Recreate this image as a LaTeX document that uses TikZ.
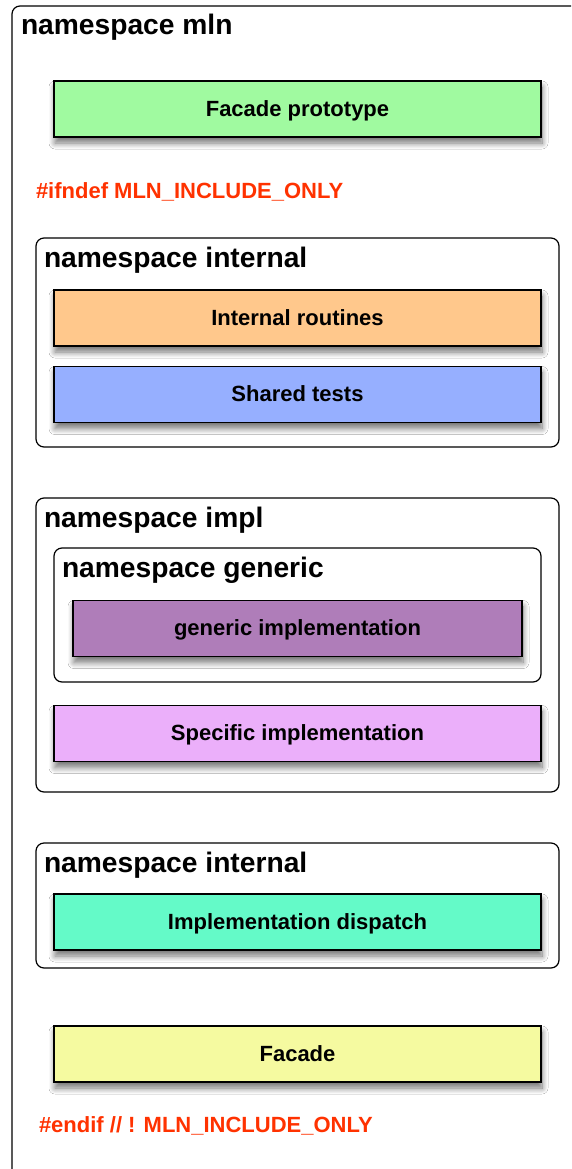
\documentclass[tikz,border=0pt]{standalone}
\usepackage{fontspec}
\setmainfont{Liberation Sans}
\usetikzlibrary{shadows.blur}
\definecolor{guardred}{RGB}{255,50,0}
\definecolor{protogreen}{RGB}{160,250,160}
\definecolor{routorange}{RGB}{255,200,140}
\definecolor{testblue}{RGB}{150,175,255}
\definecolor{genpurple}{RGB}{175,125,185}
\definecolor{specpink}{RGB}{235,175,250}
\definecolor{dispmint}{RGB}{100,250,200}
\definecolor{facyellow}{RGB}{245,250,160}

\begin{document}
\begin{tikzpicture}
    [x=1pt,y=-1pt,every node/.style={inner sep=0pt,outer sep=0pt},
     nsbox/.style={draw,line width=1.2pt,rounded corners=8pt,anchor=north west},
     nstitle/.style={anchor=base west,font=\fontsize{28.2}{31}\bfseries\selectfont},
     unit/.style={draw,line width=1.2pt,minimum height=56pt,text depth=1pt,
       font=\fontsize{22}{25}\bfseries\selectfont,
       blur shadow={shadow xshift=1pt,shadow yshift=-6pt,shadow blur steps=10,shadow blur radius=6pt,shadow opacity=55}},
     guard/.style={anchor=west,text=guardred,font=\fontsize{22}{25}\bfseries\selectfont}]
    \useasboundingbox[fill=white] (0,0) rectangle (571,1169);
    \clip (0,0) rectangle (571,1169);
    % namespace mln
    \node[nsbox,minimum width=620pt,minimum height=1200pt] (mln) at (12,6) {};
    \node[nstitle] (tmln) at (21,35) {namespace mln};
    \node[unit,fill=protogreen,minimum width=487pt] (proto) at (297.5,109) {Facade prototype};
    \node[guard] (ifn) at (36,192) {\#ifndef MLN\_INCLUDE\_ONLY};
    % namespace internal
    \node[nsbox,minimum width=523pt,minimum height=209pt] (intA) at (36,238) {};
    \node[nstitle] (tintA) at (44,267) {namespace internal};
    \node[unit,fill=routorange,minimum width=487pt] (rout) at (297.5,318) {Internal routines};
    \node[unit,fill=testblue,minimum width=487pt] (tests) at (297.5,394.5) {Shared tests};
    % namespace impl
    \node[nsbox,minimum width=523pt,minimum height=294pt] (impl) at (36,498) {};
    \node[nstitle] (timpl) at (44,527) {namespace impl};
    \node[nsbox,minimum width=487pt,minimum height=134pt] (gen) at (54,548) {};
    \node[nstitle] (tgen) at (62,577) {namespace generic};
    \node[unit,fill=genpurple,minimum width=449pt] (genimpl) at (297.5,628.5) {generic implementation};
    \node[unit,fill=specpink,minimum width=487pt] (spec) at (297.5,733.5) {Specific implementation};
    % namespace internal
    \node[nsbox,minimum width=523pt,minimum height=125pt] (intB) at (36,843) {};
    \node[nstitle] (tintB) at (44,872) {namespace internal};
    \node[unit,fill=dispmint,minimum width=487pt] (disp) at (297.5,922) {Implementation dispatch};
    \node[unit,fill=facyellow,minimum width=487pt] (facade) at (297.5,1054) {Facade};
    \node[guard] (endif) at (39,1126) {\#endif // ! MLN\_INCLUDE\_ONLY};
\end{tikzpicture}
\end{document}
